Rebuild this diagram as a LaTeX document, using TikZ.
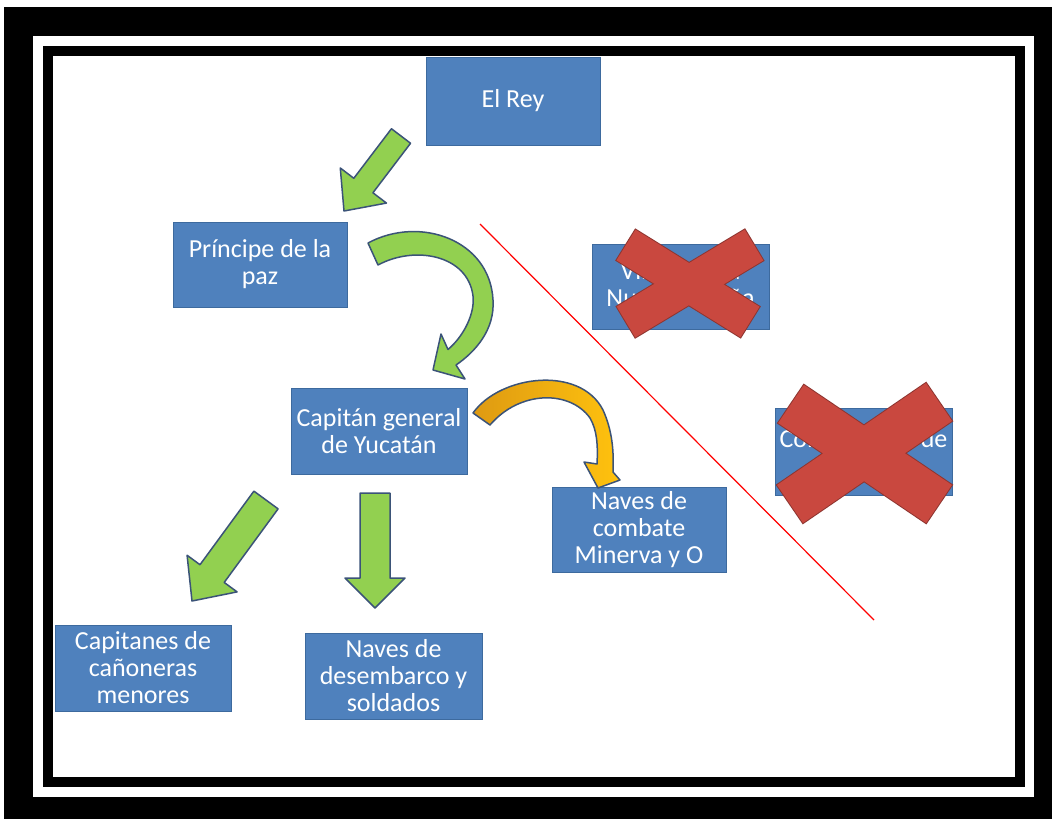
\documentclass[tikz,border=0pt]{standalone}
\usepackage{fontspec}
\setmainfont{Carlito}
\usetikzlibrary{calc}
\definecolor{boxblue}{HTML}{4F81BD}
\definecolor{boxedge}{HTML}{3D6A9E}
\definecolor{arrowgreen}{HTML}{92D050}
\definecolor{arrowedge}{HTML}{3B5378}
\definecolor{crossred}{HTML}{C9483F}
\definecolor{crossedge}{HTML}{8E3530}
\definecolor{tailorange}{HTML}{DE9A12}
\definecolor{headyellow}{HTML}{FFC20E}

% straight block arrow: [style]{tail}{tip}{half shaft}{half head}{head length}
\newcommand{\flecha}[6][]{%
  \coordinate (fb) at ($(#3)!#6!(#2)$);
  \draw[#1] ($(#2)!#4!90:(#3)$) -- ($(fb)!#4!90:(#3)$) -- ($(fb)!#5!90:(#3)$) -- (#3)
    -- ($(fb)!#5!-90:(#3)$) -- ($(fb)!#4!-90:(#3)$) -- ($(#2)!#4!-90:(#3)$) -- cycle;}
% one arm of a cross
\newcommand{\brazo}[3]{($(#1)!#3!90:(#2)$) -- ($(#2)!#3!-90:(#1)$) -- ($(#2)!#3!90:(#1)$) -- ($(#1)!#3!-90:(#2)$) -- cycle }

\begin{document}
\begin{tikzpicture}[x=1pt, y=-1pt,
  cargo/.style={rectangle, draw=boxedge, line width=1pt, fill=boxblue, text=white, align=center,
    minimum width=175pt, minimum height=86pt, inner sep=2pt, font=\fontsize{26}{27}\selectfont},
  bloque/.style={draw=arrowedge, line width=1.5pt, line join=round}]
\useasboundingbox (0,0) rectangle (1052,819);

% frame
\fill[white] (0,0) rectangle (1052,819);
\fill[black] (4,7) rectangle (1052,819);
\fill[white] (33,36) rectangle (1034,797);
\fill[black] (43,46) rectangle (1025,787);
\fill[white] (53,56) rectangle (1015,777);

% dividing line
\coordinate (lineaA) at (480,224);
\coordinate (lineaB) at (874,620);
\draw[red, line width=1.2pt] (lineaA) -- (lineaB);

% boxes
\node[cargo, minimum width=174pt, minimum height=88pt] (rey) at (513,101) {El Rey};
\node[cargo, minimum width=174pt, minimum height=85pt] (principe) at (260,264.5) {Príncipe de la\\paz};
\node[cargo, minimum width=176pt] (capitan) at (379,431) {Capitán general\\de Yucatán};
\node[cargo, minimum width=177pt, minimum height=85pt] (virrey) at (680.5,286.5) {Virrey de la\\Nueva España};
\node[cargo, minimum width=177pt, minimum height=87pt] (comandante) at (863.5,451.5) {Comandante de\\\mbox{}};
\node[cargo, minimum width=174pt, minimum height=85pt] (combate) at (639,529.5) {Naves de\\combate\\Minerva y O};
\node[cargo, minimum width=176pt] (capitanes) at (143,668) {Capitanes de\\cañoneras\\menores};
\node[cargo, minimum width=177pt] (desembarco) at (393.5,676) {Naves de\\desembarco y\\soldados};

% straight arrows
\coordinate (reyT) at (401,136);
\coordinate (reyP) at (344,211);
\flecha[bloque, fill=arrowgreen]{reyT}{reyP}{12pt}{29pt}{32pt}
\coordinate (capT) at (266,500);
\coordinate (capP) at (192,601);
\flecha[bloque, fill=arrowgreen]{capT}{capP}{15pt}{31pt}{34pt}
\coordinate (desT) at (375,493);
\coordinate (desP) at (375,608);
\flecha[bloque, fill=arrowgreen]{desT}{desP}{15pt}{30pt}{30pt}

% curved arrows
\path[bloque, fill=arrowgreen] (368,243) .. controls (420,215) and (490,240) .. (493,300)
  .. controls (495,330) and (475,352) .. (456,365) -- (465,379) -- (433,370) -- (441,334) -- (448,349.5)
  .. controls (465,335) and (475,312) .. (473,296) .. controls (468,255) and (415,245) .. (378,265) -- cycle;
\path[bloque, left color=tailorange, right color=headyellow] (473,413) .. controls (500,375) and (580,365) .. (603,410)
  .. controls (612,430) and (614,450) .. (613,472) -- (620,480) -- (598,488) -- (584,462) -- (597,464)
  .. controls (598,445) and (597,430) .. (590,418) .. controls (570,390) and (520,390) .. (490,425) -- cycle;

% crosses
\coordinate (x1a) at (626,245);
\coordinate (x1b) at (750,322);
\coordinate (x1c) at (754,245);
\coordinate (x1d) at (626,322);
\path[fill=crossred, draw=crossedge, line width=2pt] \brazo{x1a}{x1b}{18pt} \brazo{x1c}{x1d}{18pt};
\path[fill=crossred] \brazo{x1a}{x1b}{18pt} \brazo{x1c}{x1d}{18pt};
\coordinate (x2a) at (791,404);
\coordinate (x2b) at (939,504);
\coordinate (x2c) at (939,402);
\coordinate (x2d) at (790,504);
\path[fill=crossred, draw=crossedge, line width=2pt] \brazo{x2a}{x2b}{23pt} \brazo{x2c}{x2d}{23pt};
\path[fill=crossred] \brazo{x2a}{x2b}{23pt} \brazo{x2c}{x2d}{23pt};
\end{tikzpicture}
\end{document}
